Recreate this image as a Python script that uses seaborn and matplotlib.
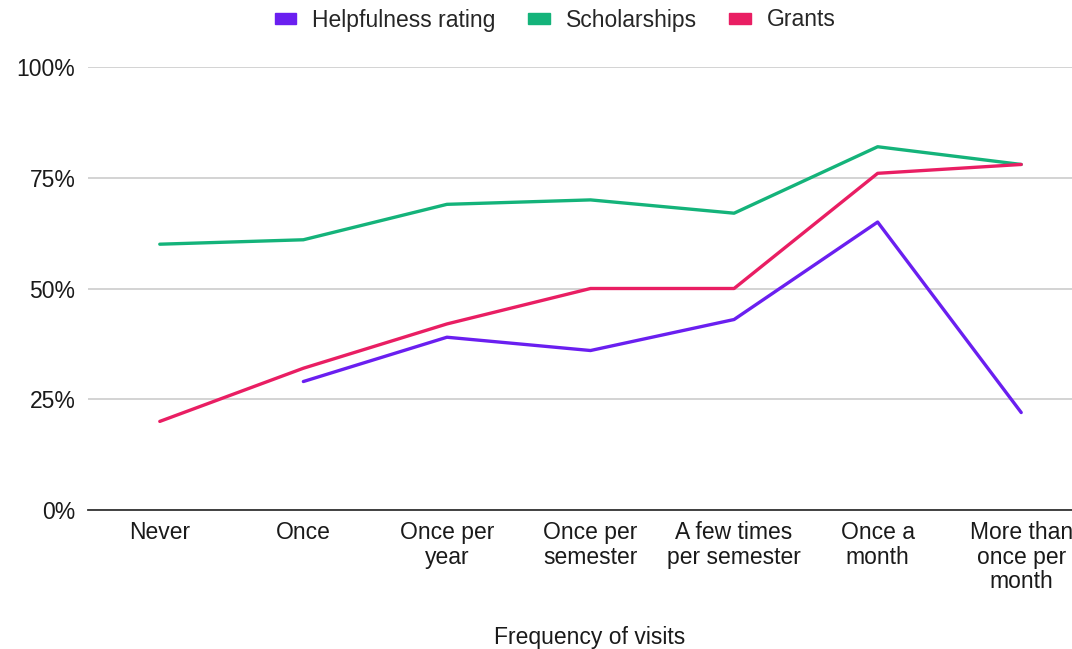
import pandas as pd
import matplotlib.pyplot as plt
import seaborn as sns
from matplotlib.patches import Patch
from matplotlib.ticker import PercentFormatter

# Data
frequency = ["Never", "Once", "Once per\nyear", "Once per\nsemester",
             "A few times\nper semester", "Once a\nmonth", "More than\nonce per\nmonth"]
helpfulness = [None, 0.29, 0.39, 0.36, 0.43, 0.65, 0.22]
scholarships = [0.60, 0.61, 0.69, 0.70, 0.67, 0.82, 0.78]
grants = [0.20, 0.32, 0.42, 0.50, 0.50, 0.76, 0.78]

series_names = ["Helpfulness rating", "Scholarships", "Grants"]
colors = ["#6a1ff0", "#14b37a", "#e91e63"]

df = pd.DataFrame({
    "Frequency": frequency * 3,
    "pos": list(range(len(frequency))) * 3,
    "value": helpfulness + scholarships + grants,
    "series": [series_names[0]] * 7 + [series_names[1]] * 7 + [series_names[2]] * 7,
}).dropna()

sns.set_style("white")
plt.rcParams['font.family'] = ['Liberation Sans', 'DejaVu Sans']
fs = 16.5
txt = "#1a1a1a"

fig = plt.figure(figsize=(10.72, 6.49), dpi=100)
ax = fig.add_axes([88 / 1072, 139 / 649, 1005 / 1072, 443 / 649])

sns.lineplot(data=df, x="pos", y="value", hue="series", hue_order=series_names,
             palette=colors, linewidth=2.4, ax=ax, legend=False, sort=False)

ax.set_xlim(-0.5, 6.5)
ax.set_ylim(0, 1)
ax.set_yticks([0, 0.25, 0.5, 0.75, 1.0])
ax.yaxis.set_major_formatter(PercentFormatter(1.0, decimals=0))
ax.set_xticks(range(len(frequency)))
ax.set_xticklabels(frequency, fontsize=fs, color=txt, linespacing=1.08)
ax.tick_params(axis="y", labelsize=fs, colors=txt, length=0, pad=9)
ax.tick_params(axis="x", length=0, pad=8)
ax.grid(axis="y", color="#cccccc", linewidth=1.2)
ax.set_axisbelow(True)
for side in ["top", "right", "left"]:
    ax.spines[side].set_visible(False)
ax.spines["bottom"].set_color("#333333")
ax.spines["bottom"].set_linewidth(1.3)
ax.spines["bottom"].set_zorder(3)

ax.set_ylabel("")
ax.set_xlabel("Frequency of visits", fontsize=fs, color=txt)
ax.xaxis.set_label_coords(502 / 1005, -116 / 443)

handles = [Patch(color=c, label=n) for n, c in zip(series_names, colors)]
fig.legend(handles=handles, loc="center", bbox_to_anchor=(555 / 1072, 1 - 20 / 649),
           ncol=3, frameon=False, fontsize=fs, handlelength=0.95, handleheight=0.35,
           handletextpad=0.7, columnspacing=1.4)

fig.savefig("out.png", dpi=100)
